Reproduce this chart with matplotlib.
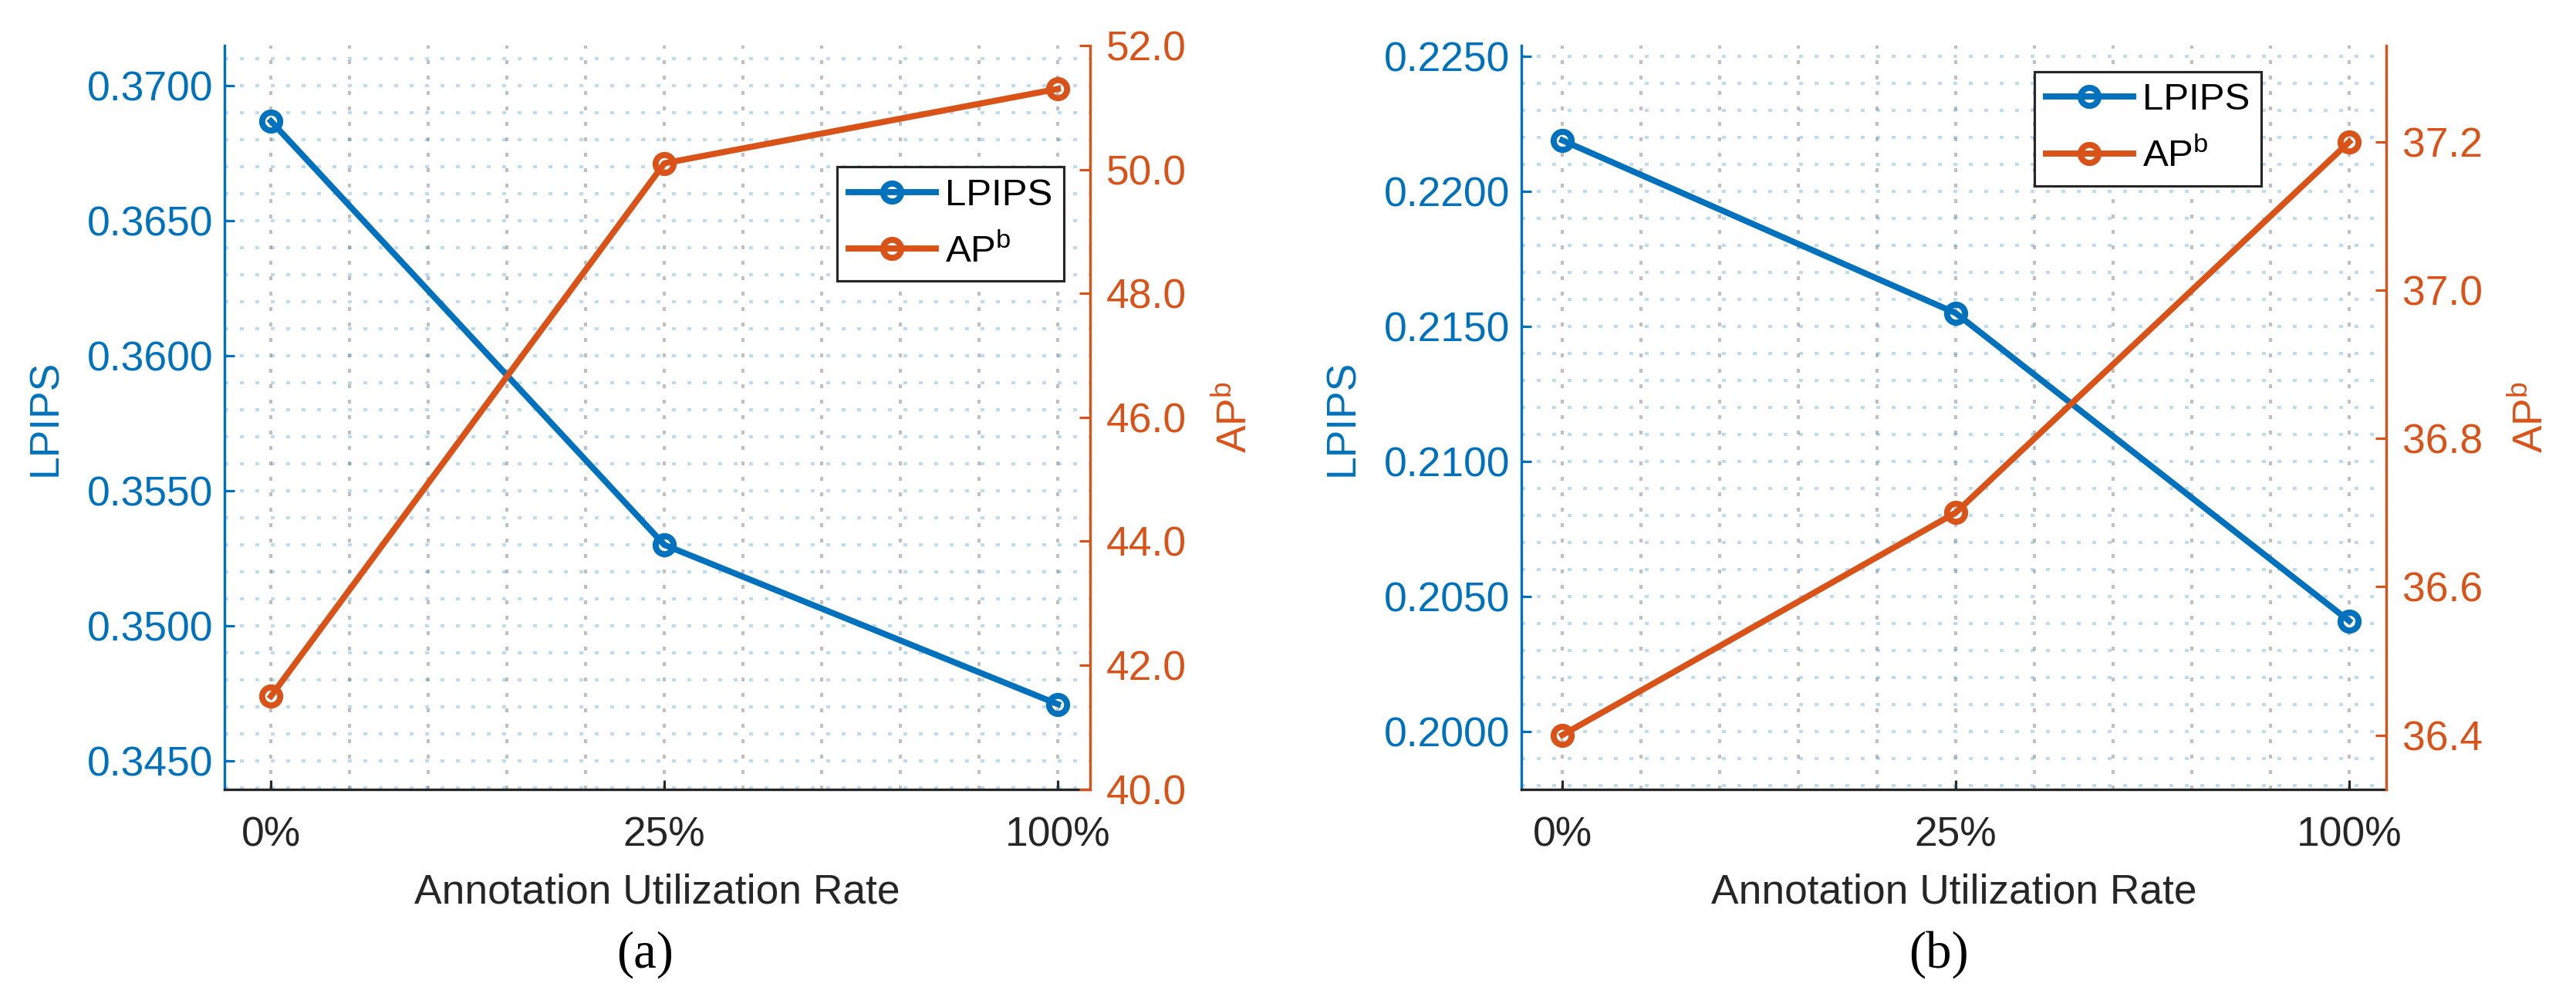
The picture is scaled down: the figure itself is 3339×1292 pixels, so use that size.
#!/usr/bin/env python3
# -*- coding: utf-8 -*-

import numpy as np
import matplotlib
matplotlib.use("Agg")
import matplotlib.pyplot as plt
from matplotlib.ticker import MultipleLocator, FixedLocator, FormatStrFormatter

# ================== DATA ==================
RATES = ["0%", "25%", "100%"]

# (a)
LPIPS_A = [0.3687, 0.3530, 0.3471]
APB_A   = [41.5, 50.1, 51.3]
LPIPS_TICKS_A = [0.3450, 0.3500, 0.3550, 0.3600, 0.3650, 0.3700]
APB_TICKS_A   = [40.0, 42.0, 44.0, 46.0, 48.0, 50.0, 52.0]

# (b)
LPIPS_B = [0.2219, 0.2155, 0.2041]
APB_B   = [36.4, 36.7, 37.2]
LPIPS_TICKS_B = [0.2000, 0.2050, 0.2100, 0.2150, 0.2200, 0.2250]
APB_TICKS_B   = [36.4, 36.6, 36.8, 37.0, 37.2]
# ==========================================

# ---------------- style ----------------
W, H, DPI = 3339, 1292, 300
BLUE   = "#0072BD"
ORANGE = "#D95319"
DARK   = "#262626"
FS     = 12.8     # tick / label font size
LEG_FS = 11.8     # MATLAB legend is a bit smaller
LW     = 1.9
MS     = 5.6
MEW    = 1.9
DOTS   = (0, (1.2, 3.6))

plt.rcParams["font.family"] = ["Liberation Sans", "DejaVu Sans"]
plt.rcParams["mathtext.fontset"] = "custom"
plt.rcParams["mathtext.rm"] = "Liberation Sans"
plt.rcParams["mathtext.it"] = "Liberation Sans:italic"

APB_LABEL = r"AP$^{\mathrm{b}}$"

# axes boxes in pixels (left, right), shared top / bottom
TOP_PX, BOTTOM_PX = 59, 1022.7


def px_rect(left, right):
    return [left / W, 1 - BOTTOM_PX / H, (right - left) / W, (BOTTOM_PX - TOP_PX) / H]


def draw_panel(fig, rect, lpips, apb, lp_ticks, ap_ticks,
               xlim, lp_lim, ap_lim, legend_xy):
    x = np.arange(1, len(RATES) + 1)

    ax = fig.add_axes(rect)
    ax2 = ax.twinx()

    l1, = ax.plot(x, lpips, color=BLUE, lw=LW, marker="o", ms=MS, mew=MEW,
                  mfc="none", label="LPIPS", clip_on=False, zorder=3)
    l2, = ax2.plot(x, apb, color=ORANGE, lw=LW, marker="o", ms=MS, mew=MEW,
                   mfc="none", label=APB_LABEL, clip_on=False, zorder=3)

    ax.set_xlim(*xlim)
    ax.set_ylim(*lp_lim)
    ax2.set_ylim(*ap_lim)

    ax.set_xticks(x)
    ax.set_xticklabels(RATES)
    ax.yaxis.set_major_locator(FixedLocator(lp_ticks))
    ax.yaxis.set_major_formatter(FormatStrFormatter("%.4f"))
    ax2.yaxis.set_major_locator(FixedLocator(ap_ticks))
    ax2.yaxis.set_major_formatter(FormatStrFormatter("%.1f"))

    # minor grid like MATLAB "grid minor"
    ax.xaxis.set_minor_locator(MultipleLocator(0.2))
    ax.yaxis.set_minor_locator(MultipleLocator(0.001))
    ax.set_axisbelow(True)
    ax.grid(True, which="both", axis="x", color=DARK, alpha=0.29, lw=1.0, ls=DOTS)
    ax.grid(True, which="both", axis="y", color=BLUE, alpha=0.25, lw=1.0, ls=DOTS)

    # spines
    ax.spines["top"].set_visible(False)
    ax.spines["right"].set_visible(False)
    ax.spines["left"].set_color(BLUE)
    ax.spines["bottom"].set_color(DARK)
    for s in ("top", "left", "bottom"):
        ax2.spines[s].set_visible(False)
    ax2.spines["right"].set_color(ORANGE)
    for s in (ax.spines["left"], ax.spines["bottom"], ax2.spines["right"]):
        s.set_linewidth(0.8)

    # ticks
    ax.tick_params(axis="y", which="major", colors=BLUE, direction="in",
                   length=3.1, width=0.75, pad=3.6, labelsize=FS)
    ax.tick_params(axis="x", which="major", colors=DARK, direction="in",
                   length=3.0, width=0.75, pad=8.4, labelsize=FS)
    ax.tick_params(which="minor", length=0)
    ax2.tick_params(axis="y", which="major", colors=ORANGE, direction="in",
                    length=3.4, width=0.75, pad=5.0, labelsize=FS)

    # labels
    ax.set_xlabel("Annotation Utilization Rate", fontsize=FS, color=DARK)
    ax.xaxis.set_label_coords(0.5, -0.1134)
    ax.set_ylabel("LPIPS", fontsize=FS, color=BLUE)
    ax.yaxis.label.set(ha="center", va="center")
    ax.yaxis.set_label_coords(-0.207, 0.5)
    ax2.set_ylabel(APB_LABEL, fontsize=FS, color=ORANGE, rotation=90)
    ax2.yaxis.label.set(ha="center", va="center")
    ax2.yaxis.set_label_coords(1.168, 0.5)

    leg = ax2.legend([l1, l2], ["LPIPS", APB_LABEL], loc="upper left",
                     bbox_to_anchor=legend_xy, borderaxespad=0, fontsize=LEG_FS,
                     frameon=True, fancybox=False, framealpha=1, edgecolor=DARK,
                     handlelength=2.3, handletextpad=0.25, borderpad=0.3,
                     labelspacing=0.55)
    leg.get_frame().set_linewidth(0.75)
    return ax, ax2


def main():
    fig = plt.figure(figsize=(W / DPI, H / DPI), dpi=DPI)

    draw_panel(fig, px_rect(291, 1413), LPIPS_A, APB_A, LPIPS_TICKS_A, APB_TICKS_A,
               xlim=(0.882, 3.082), lp_lim=(0.34395, 0.3715), ap_lim=(40.0, 52.0),
               legend_xy=(0.7077, 0.837))
    draw_panel(fig, px_rect(1972, 3093), LPIPS_B, APB_B, LPIPS_TICKS_B, APB_TICKS_B,
               xlim=(0.896, 3.094), lp_lim=(0.19787, 0.22541), ap_lim=(36.327, 37.33),
               legend_xy=(0.593, 0.965))

    # sub-figure captions
    fig.text(836 / W, 1 - 1237 / H, "(a)", ha="center", va="center",
             fontsize=16, family="Liberation Serif", color="black")
    fig.text(2513 / W, 1 - 1237 / H, "(b)", ha="center", va="center",
             fontsize=16, family="Liberation Serif", color="black")

    fig.savefig("out.png", dpi=DPI)
    plt.close(fig)


if __name__ == "__main__":
    main()
